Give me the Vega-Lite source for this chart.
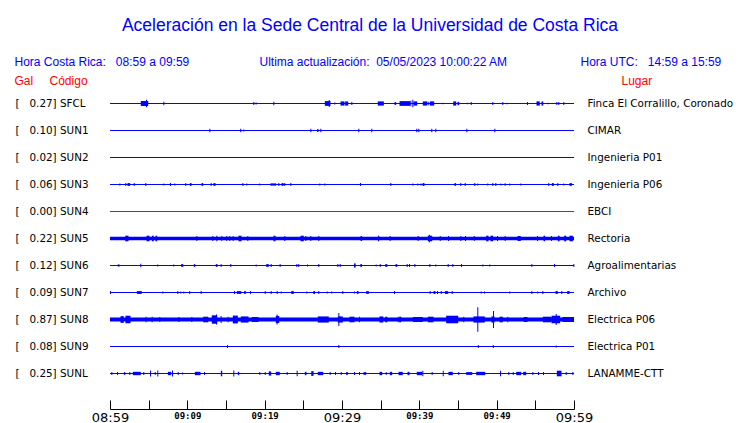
{
  "$schema": "https://vega.github.io/schema/vega-lite/v6.json",
  "autosize": {"type": "none"},
  "width": 464,
  "height": 333,
  "padding": {"left": 110, "top": 76, "right": 166, "bottom": 14},
  "background": "white",
  "config": {"view": {"stroke": null}},
  "title": {"text": "Aceleración en la Sede Central de la Universidad de Costa Rica", "font": "Liberation Sans", "fontSize": 17.5, "fontWeight": "normal", "color": "#0000ff", "anchor": "middle", "frame": "group", "dx": 28, "offset": 21},
  "datasets": {
    "stations": [
      {"n": 1, "code": "SFCL"}, {"n": 2, "code": "SUN1"}, {"n": 3, "code": "SUN2"}, {"n": 4, "code": "SUN3"},
      {"n": 5, "code": "SUN4"}, {"n": 6, "code": "SUN5"}, {"n": 7, "code": "SUN6"}, {"n": 8, "code": "SUN7"},
      {"n": 9, "code": "SUN8"}, {"n": 10, "code": "SUN9"}, {"n": 11, "code": "SUNL"}
    ],
    "header": [
      {"n": -0.39, "t": -12.35, "kind": "info", "text": "Hora Costa Rica:\u00a0\u00a0\u00a008:59 a 09:59"},
      {"n": -0.39, "t": 19.33, "kind": "info", "text": "Ultima actualización:\u00a0\u00a005/05/2023 10:00:22 AM"},
      {"n": -0.39, "t": 60.84, "kind": "info", "text": "Hora UTC:\u00a0\u00a0\u00a014:59 a 15:59"},
      {"n": 0.33, "t": -12.35, "kind": "col", "text": "Gal"},
      {"n": 0.33, "t": -7.82, "kind": "col", "text": "Código"},
      {"n": 0.33, "t": 66.14, "kind": "col", "text": "Lugar"}
    ],
    "bursts": [
      {"n":1,"t0":3.98,"t1":4.94,"a":0.18},{"n":1,"t0":27.78,"t1":28.51,"a":0.17},{"n":1,"t0":29.81,"t1":30.33,"a":0.15},{"n":1,"t0":30.41,"t1":30.8,"a":0.15},{"n":1,"t0":34.63,"t1":35.41,"a":0.15},{"n":1,"t0":36.79,"t1":37.01,"a":0.1},{"n":1,"t0":37.44,"t1":38.82,"a":0.17},{"n":1,"t0":39.25,"t1":39.72,"a":0.15},{"n":1,"t0":40.45,"t1":41.02,"a":0.15},{"n":1,"t0":41.35,"t1":41.92,"a":0.15},{"n":1,"t0":44.38,"t1":44.77,"a":0.15},{"n":1,"t0":44.94,"t1":45.16,"a":0.12},{"n":1,"t0":55.15,"t1":55.58,"a":0.15},{"n":1,"t0":55.8,"t1":56.02,"a":0.15},
      {"n":2,"t0":26.79,"t1":26.96,"a":0.1},
      {"n":4,"t0":2.26,"t1":2.61,"a":0.1},{"n":4,"t0":10.32,"t1":10.54,"a":0.1},{"n":4,"t0":11.83,"t1":12.05,"a":0.1},{"n":4,"t0":13.38,"t1":13.64,"a":0.1},{"n":4,"t0":20.75,"t1":21.49,"a":0.08},{"n":4,"t0":22.18,"t1":22.44,"a":0.1},{"n":4,"t0":40.41,"t1":40.67,"a":0.1},{"n":4,"t0":44.55,"t1":44.75,"a":0.1},{"n":4,"t0":51.0,"t1":51.2,"a":0.08},{"n":4,"t0":57.13,"t1":57.39,"a":0.1},{"n":4,"t0":59.42,"t1":59.72,"a":0.1},
      {"n":6,"t0":0,"t1":60,"a":0.12},{"n":6,"t0":1.97,"t1":2.39,"a":0.2},{"n":6,"t0":4.72,"t1":5.11,"a":0.2},{"n":6,"t0":5.41,"t1":5.66,"a":0.2},{"n":6,"t0":5.88,"t1":6.1,"a":0.2},{"n":6,"t0":16.62,"t1":17.0,"a":0.2},{"n":6,"t0":21.14,"t1":21.4,"a":0.2},{"n":6,"t0":24.63,"t1":25.06,"a":0.2},{"n":6,"t0":32.4,"t1":32.6,"a":0.18},{"n":6,"t0":34.65,"t1":34.8,"a":0.2},{"n":6,"t0":41.1,"t1":41.66,"a":0.2},{"n":6,"t0":48.65,"t1":48.94,"a":0.2},{"n":6,"t0":49.2,"t1":49.55,"a":0.2},{"n":6,"t0":52.7,"t1":53.12,"a":0.18},{"n":6,"t0":56.06,"t1":56.27,"a":0.2},{"n":6,"t0":57.91,"t1":58.13,"a":0.2},{"n":6,"t0":58.73,"t1":58.99,"a":0.2},{"n":6,"t0":59.42,"t1":59.85,"a":0.2},
      {"n":7,"t0":1.0,"t1":1.23,"a":0.08},{"n":7,"t0":9.2,"t1":9.47,"a":0.1},{"n":7,"t0":10.84,"t1":11.02,"a":0.1},{"n":7,"t0":13.68,"t1":13.9,"a":0.1},{"n":7,"t0":20.2,"t1":20.53,"a":0.1},{"n":7,"t0":31.55,"t1":31.75,"a":0.1},{"n":7,"t0":32.4,"t1":32.55,"a":0.1},{"n":7,"t0":35.59,"t1":35.85,"a":0.1},{"n":7,"t0":36.92,"t1":37.14,"a":0.1},
      {"n":8,"t0":3.47,"t1":4.11,"a":0.1},{"n":8,"t0":10.24,"t1":10.37,"a":0.1},{"n":8,"t0":16.4,"t1":16.97,"a":0.1},{"n":8,"t0":17.35,"t1":17.56,"a":0.1},{"n":8,"t0":23.43,"t1":23.77,"a":0.1},{"n":8,"t0":26.3,"t1":26.5,"a":0.1},{"n":8,"t0":31.92,"t1":32.14,"a":0.1},{"n":8,"t0":33.13,"t1":33.47,"a":0.1},{"n":8,"t0":41.83,"t1":42.09,"a":0.1},{"n":8,"t0":43.3,"t1":43.73,"a":0.1},{"n":8,"t0":57.61,"t1":57.91,"a":0.1},{"n":8,"t0":59.12,"t1":59.42,"a":0.1},
      {"n":9,"t0":0,"t1":60,"a":0.15},{"n":9,"t0":1.36,"t1":1.78,"a":0.24},{"n":9,"t0":2.0,"t1":2.65,"a":0.27},{"n":9,"t0":12.05,"t1":12.7,"a":0.2},{"n":9,"t0":13.16,"t1":13.86,"a":0.3},{"n":9,"t0":15.88,"t1":16.53,"a":0.28},{"n":9,"t0":16.91,"t1":17.91,"a":0.22},{"n":9,"t0":18.34,"t1":19.2,"a":0.18},{"n":9,"t0":21.44,"t1":21.88,"a":0.25},{"n":9,"t0":26.87,"t1":28.29,"a":0.22},{"n":9,"t0":29.46,"t1":30.1,"a":0.22},{"n":9,"t0":30.97,"t1":31.62,"a":0.2},{"n":9,"t0":34.85,"t1":35.33,"a":0.22},{"n":9,"t0":35.59,"t1":35.85,"a":0.2},{"n":9,"t0":37.4,"t1":37.65,"a":0.2},{"n":9,"t0":39.16,"t1":40.45,"a":0.18},{"n":9,"t0":41.1,"t1":41.83,"a":0.2},{"n":9,"t0":43.47,"t1":45.03,"a":0.27},{"n":9,"t0":47.0,"t1":48.47,"a":0.22},{"n":9,"t0":49.33,"t1":49.72,"a":0.22},{"n":9,"t0":50.37,"t1":50.8,"a":0.2},{"n":9,"t0":53.5,"t1":54.0,"a":0.18},{"n":9,"t0":55.97,"t1":57.05,"a":0.2},{"n":9,"t0":57.09,"t1":58.21,"a":0.27},{"n":9,"t0":58.5,"t1":60,"a":0.18},
      {"n":10,"t0":47.56,"t1":47.69,"a":0.1},{"n":10,"t0":49.5,"t1":49.63,"a":0.1},
      {"n":11,"t0":1.79,"t1":1.97,"a":0.1},{"n":11,"t0":2.95,"t1":3.98,"a":0.12},{"n":11,"t0":7.48,"t1":7.91,"a":0.12},{"n":11,"t0":10.97,"t1":11.7,"a":0.12},{"n":11,"t0":14.33,"t1":14.51,"a":0.2},{"n":11,"t0":16.53,"t1":16.71,"a":0.12},{"n":11,"t0":20.53,"t1":20.84,"a":0.15},{"n":11,"t0":21.44,"t1":21.96,"a":0.12},{"n":11,"t0":25.19,"t1":25.41,"a":0.12},{"n":11,"t0":26.02,"t1":26.32,"a":0.17},{"n":11,"t0":26.87,"t1":27.57,"a":0.12},{"n":11,"t0":30.54,"t1":30.75,"a":0.1},{"n":11,"t0":32.78,"t1":33.13,"a":0.1},{"n":11,"t0":34.85,"t1":35.2,"a":0.12},{"n":11,"t0":36.18,"t1":36.49,"a":0.12},{"n":11,"t0":37.31,"t1":37.86,"a":0.12},{"n":11,"t0":38.47,"t1":38.73,"a":0.12},{"n":11,"t0":39.67,"t1":40.37,"a":0.12},{"n":11,"t0":43.77,"t1":44.33,"a":0.12},{"n":11,"t0":46.06,"t1":46.84,"a":0.1},{"n":11,"t0":47.35,"t1":48.52,"a":0.12},{"n":11,"t0":52.53,"t1":53.17,"a":0.12},{"n":11,"t0":53.43,"t1":53.82,"a":0.12},{"n":11,"t0":57.78,"t1":58.39,"a":0.2}
    ],
    "spikes": [
      {"n":1,"t":4.72,"a":0.27},{"n":1,"t":6.96,"a":0.12},{"n":1,"t":18.6,"a":0.1},{"n":1,"t":18.9,"a":0.07},{"n":1,"t":21.18,"a":0.12},{"n":1,"t":28.35,"a":0.25},{"n":1,"t":29.07,"a":0.08},{"n":1,"t":31.27,"a":0.1},{"n":1,"t":38.9,"a":0.2},{"n":1,"t":39.16,"a":0.27},{"n":1,"t":41.15,"a":0.12},{"n":1,"t":43.04,"a":0.06},{"n":1,"t":46.19,"a":0.06},{"n":1,"t":46.71,"a":0.1},{"n":1,"t":49.5,"a":0.1},{"n":1,"t":50.79,"a":0.1},{"n":1,"t":51.31,"a":0.06},{"n":1,"t":53.99,"a":0.1},{"n":1,"t":56.61,"a":0.06},{"n":1,"t":57.78,"a":0.1},{"n":1,"t":58.04,"a":0.1},{"n":1,"t":58.68,"a":0.1},
      {"n":2,"t":12.91,"a":0.12},{"n":2,"t":16.91,"a":0.12},{"n":2,"t":17.3,"a":0.07},{"n":2,"t":25.97,"a":0.12},{"n":2,"t":27.26,"a":0.12},{"n":2,"t":32.17,"a":0.12},{"n":2,"t":33.85,"a":0.12},{"n":2,"t":39.67,"a":0.12},{"n":2,"t":39.93,"a":0.12},{"n":2,"t":41.61,"a":0.12},{"n":2,"t":42.13,"a":0.12},{"n":2,"t":46.14,"a":0.12},{"n":2,"t":49.76,"a":0.12},
      {"n":4,"t":1.27,"a":0.07},{"n":4,"t":2.04,"a":0.1},{"n":4,"t":3.13,"a":0.1},{"n":4,"t":4.63,"a":0.1},{"n":4,"t":6.96,"a":0.07},{"n":4,"t":7.82,"a":0.1},{"n":4,"t":8.38,"a":0.07},{"n":4,"t":9.8,"a":0.1},{"n":4,"t":13.08,"a":0.1},{"n":4,"t":17.18,"a":0.1},{"n":4,"t":17.69,"a":0.07},{"n":4,"t":19.37,"a":0.07},{"n":4,"t":21.83,"a":0.1},{"n":4,"t":22.6,"a":0.1},{"n":4,"t":23.38,"a":0.1},{"n":4,"t":27.13,"a":0.07},{"n":4,"t":27.78,"a":0.07},{"n":4,"t":32.39,"a":0.1},{"n":4,"t":36.31,"a":0.1},{"n":4,"t":39.16,"a":0.07},{"n":4,"t":39.8,"a":0.07},{"n":4,"t":40.19,"a":0.07},{"n":4,"t":45.36,"a":0.1},{"n":4,"t":45.93,"a":0.1},{"n":4,"t":47.17,"a":0.1},{"n":4,"t":47.56,"a":0.07},{"n":4,"t":48.85,"a":0.07},{"n":4,"t":49.5,"a":0.1},{"n":4,"t":49.89,"a":0.1},{"n":4,"t":50.54,"a":0.07},{"n":4,"t":51.7,"a":0.07},{"n":4,"t":53.12,"a":0.07},{"n":4,"t":56.74,"a":0.1},{"n":4,"t":57.91,"a":0.1},{"n":4,"t":58.68,"a":0.07},
      {"n":6,"t":11.23,"a":0.17},{"n":6,"t":13.29,"a":0.17},{"n":6,"t":13.81,"a":0.2},{"n":6,"t":14.46,"a":0.17},{"n":6,"t":15.1,"a":0.17},{"n":6,"t":15.49,"a":0.17},{"n":6,"t":15.93,"a":0.17},{"n":6,"t":17.82,"a":0.17},{"n":6,"t":22.6,"a":0.17},{"n":6,"t":25.32,"a":0.17},{"n":6,"t":25.97,"a":0.17},{"n":6,"t":27.0,"a":0.17},{"n":6,"t":36.23,"a":0.17},{"n":6,"t":39.85,"a":0.17},{"n":6,"t":41.3,"a":0.27},{"n":6,"t":42.7,"a":0.17},{"n":6,"t":43.77,"a":0.17},{"n":6,"t":45.36,"a":0.17},{"n":6,"t":45.97,"a":0.17},{"n":6,"t":47.1,"a":0.17},{"n":6,"t":50.11,"a":0.17},{"n":6,"t":51.1,"a":0.17},{"n":6,"t":55.28,"a":0.17},{"n":6,"t":57.09,"a":0.17},
      {"n":7,"t":3.98,"a":0.12},{"n":7,"t":6.18,"a":0.07},{"n":7,"t":8.25,"a":0.07},{"n":7,"t":14.37,"a":0.1},{"n":7,"t":15.62,"a":0.1},{"n":7,"t":18.9,"a":0.07},{"n":7,"t":20.84,"a":0.1},{"n":7,"t":22.0,"a":0.1},{"n":7,"t":24.16,"a":0.1},{"n":7,"t":24.41,"a":0.1},{"n":7,"t":25.54,"a":0.07},{"n":7,"t":27.0,"a":0.1},{"n":7,"t":29.46,"a":0.1},{"n":7,"t":29.77,"a":0.1},{"n":7,"t":31.66,"a":0.17},{"n":7,"t":32.48,"a":0.1},{"n":7,"t":34.42,"a":0.07},{"n":7,"t":34.94,"a":0.1},{"n":7,"t":38.43,"a":0.1},{"n":7,"t":38.73,"a":0.1},{"n":7,"t":39.42,"a":0.1},{"n":7,"t":41.36,"a":0.1},{"n":7,"t":42.13,"a":0.07},{"n":7,"t":43.73,"a":0.1},{"n":7,"t":44.33,"a":0.1},{"n":7,"t":45.45,"a":0.1},{"n":7,"t":48.21,"a":0.07},{"n":7,"t":49.11,"a":0.07},{"n":7,"t":54.55,"a":0.1},{"n":7,"t":57.48,"a":0.1},{"n":7,"t":59.98,"a":0.1},
      {"n":8,"t":0.06,"a":0.1},{"n":8,"t":6.83,"a":0.07},{"n":8,"t":8.77,"a":0.1},{"n":8,"t":9.16,"a":0.07},{"n":8,"t":9.54,"a":0.07},{"n":8,"t":11.79,"a":0.1},{"n":8,"t":16.1,"a":0.1},{"n":8,"t":18.17,"a":0.1},{"n":8,"t":20.07,"a":0.1},{"n":8,"t":20.84,"a":0.1},{"n":8,"t":21.62,"a":0.1},{"n":8,"t":22.14,"a":0.07},{"n":8,"t":25.45,"a":0.07},{"n":8,"t":26.44,"a":0.1},{"n":8,"t":27.0,"a":0.1},{"n":8,"t":28.09,"a":0.07},{"n":8,"t":28.68,"a":0.07},{"n":8,"t":30.1,"a":0.1},{"n":8,"t":31.62,"a":0.07},{"n":8,"t":36.79,"a":0.1},{"n":8,"t":41.4,"a":0.1},{"n":8,"t":42.35,"a":0.1},{"n":8,"t":42.83,"a":0.1},{"n":8,"t":44.25,"a":0.1},{"n":8,"t":48.0,"a":0.07},{"n":8,"t":48.43,"a":0.07},{"n":8,"t":51.7,"a":0.07},{"n":8,"t":54.55,"a":0.1},{"n":8,"t":55.32,"a":0.07},{"n":8,"t":55.97,"a":0.1},{"n":8,"t":58.42,"a":0.1},
      {"n":9,"t":4.66,"a":0.2},{"n":9,"t":5.45,"a":0.2},{"n":9,"t":6.44,"a":0.18},{"n":9,"t":8.9,"a":0.18},{"n":9,"t":10.58,"a":0.18},{"n":9,"t":13.77,"a":0.35},{"n":9,"t":14.37,"a":0.25},{"n":9,"t":15.28,"a":0.2},{"n":9,"t":21.6,"a":0.35},{"n":9,"t":29.59,"a":0.47},{"n":9,"t":32.26,"a":0.2},{"n":9,"t":37.27,"a":0.2},{"n":9,"t":45.75,"a":0.2},{"n":9,"t":47.56,"a":0.87},{"n":9,"t":49.59,"a":0.6},{"n":9,"t":51.44,"a":0.2},{"n":9,"t":57.7,"a":0.4},
      {"n":10,"t":15.19,"a":0.1},{"n":10,"t":29.59,"a":0.1},{"n":10,"t":57.7,"a":0.08},
      {"n":11,"t":0.24,"a":0.1},{"n":11,"t":0.97,"a":0.1},{"n":11,"t":2.56,"a":0.1},{"n":11,"t":4.37,"a":0.1},{"n":11,"t":5.24,"a":0.22},{"n":11,"t":5.84,"a":0.1},{"n":11,"t":6.18,"a":0.22},{"n":11,"t":8.08,"a":0.22},{"n":11,"t":8.82,"a":0.1},{"n":11,"t":9.38,"a":0.07},{"n":11,"t":12.22,"a":0.1},{"n":11,"t":16.01,"a":0.22},{"n":11,"t":19.37,"a":0.1},{"n":11,"t":20.07,"a":0.1},{"n":11,"t":22.91,"a":0.1},{"n":11,"t":24.2,"a":0.2},{"n":11,"t":28.47,"a":0.1},{"n":11,"t":29.16,"a":0.1},{"n":11,"t":29.9,"a":0.1},{"n":11,"t":31.62,"a":0.1},{"n":11,"t":32.26,"a":0.1},{"n":11,"t":35.72,"a":0.1},{"n":11,"t":40.45,"a":0.2},{"n":11,"t":41.66,"a":0.1},{"n":11,"t":43.09,"a":0.2},{"n":11,"t":45.1,"a":0.1},{"n":11,"t":50.5,"a":0.2},{"n":11,"t":51.57,"a":0.1},{"n":11,"t":52.14,"a":0.1},{"n":11,"t":54.68,"a":0.1},{"n":11,"t":55.41,"a":0.1},{"n":11,"t":56.06,"a":0.1},{"n":11,"t":58.99,"a":0.1},{"n":11,"t":59.85,"a":0.1}
    ]
  },
  "resolve": {"axis": {"y": "independent"}},
  "layer": [
    {
      "data": {"name": "stations"},
      "mark": {"type": "rule", "strokeWidth": 1},
      "encoding": {
        "y": {"field": "n", "type": "quantitative",
          "scale": {"domain": [-0.0185, 12.3148], "reverse": true, "nice": false, "zero": false},
          "axis": {"orient": "left", "values": [1,2,3,4,5,6,7,8,9,10,11], "title": null, "domain": false, "ticks": false, "tickSize": 0, "grid": false,
            "labelAlign": "left", "labelPadding": 95, "labelFont": "DejaVu Sans", "labelFontSize": 10.4, "labelColor": "black", "labelOverlap": false, "labelBound": false, "labelFlush": false,
            "labelExpr": "['', '[\u00a0\u00a0\u00a00.27] SFCL', '[\u00a0\u00a0\u00a00.10] SUN1', '[\u00a0\u00a0\u00a00.02] SUN2', '[\u00a0\u00a0\u00a00.06] SUN3', '[\u00a0\u00a0\u00a00.00] SUN4', '[\u00a0\u00a0\u00a00.22] SUN5', '[\u00a0\u00a0\u00a00.12] SUN6', '[\u00a0\u00a0\u00a00.09] SUN7', '[\u00a0\u00a0\u00a00.87] SUN8', '[\u00a0\u00a0\u00a00.08] SUN9', '[\u00a0\u00a0\u00a00.25] SUNL'][datum.value]"}},
        "color": {"condition": {"test": "datum.code === 'SUN4'", "value": "#ff0000"}, "value": "#0000ff"}
      }
    },
    {
      "data": {"name": "bursts"},
      "mark": {"type": "rule", "color": "#0000ff"},
      "encoding": {
        "x": {"field": "t0", "type": "quantitative", "title": null,
          "scale": {"domain": [0, 60], "nice": false, "zero": false},
          "axis": {"orient": "bottom", "values": [0,5,10,15,20,25,30,35,40,45,50,55,60], "title": null, "grid": false,
            "domainColor": "black", "domainWidth": 1, "tickColor": "black", "tickSize": -9, "tickWidth": 1, "labelPadding": 11, "labelBaseline": "top",
            "labelColor": "black", "labelOverlap": false, "labelFlush": false, "labelBound": false,
            "labelFont": {"condition": {"test": "datum.value % 30 == 0", "value": "DejaVu Sans"}, "value": "DejaVu Sans Mono"},
            "labelFontSize": {"condition": {"test": "datum.value % 30 == 0", "value": 13}, "value": 9},
            "labelFontWeight": {"condition": {"test": "datum.value % 30 == 0", "value": "normal"}, "value": "bold"},
            "labelExpr": "datum.value % 10 == 0 ? ['08:59','09:09','09:19','09:29','09:39','09:49','09:59'][datum.value / 10] : ''"}},
        "x2": {"field": "t1"},
        "y": {"field": "n", "type": "quantitative",
          "scale": {"domain": [-0.0185, 12.3148], "reverse": true, "nice": false, "zero": false},
          "axis": {"orient": "right", "values": [1,2,3,4,5,6,7,8,9,10,11], "title": null, "domain": false, "ticks": false, "tickSize": 0, "grid": false,
            "labelAlign": "left", "labelPadding": 13, "labelFont": "DejaVu Sans", "labelFontSize": 10.4, "labelColor": "black", "labelOverlap": false, "labelBound": false, "labelFlush": false,
            "labelExpr": "['', 'Finca El Corralillo, Coronado', 'CIMAR', 'Ingenieria P01', 'Ingenieria P06', 'EBCI', 'Rectoria', 'Agroalimentarias', 'Archivo', 'Electrica P06', 'Electrica P01', 'LANAMME-CTT'][datum.value]"}},
        "size": {"field": "a", "type": "quantitative", "scale": {"type": "linear", "domain": [0, 1], "range": [0, 28], "zero": true}, "legend": null}
      }
    },
    {
      "data": {"name": "spikes"},
      "mark": {"type": "tick", "orient": "vertical", "thickness": 1, "color": "#0000ff", "opacity": 1},
      "encoding": {
        "x": {"field": "t", "type": "quantitative", "title": null,
          "scale": {"domain": [0, 60], "nice": false, "zero": false},
          "axis": {"orient": "bottom", "values": [0,5,10,15,20,25,30,35,40,45,50,55,60], "title": null, "grid": false,
            "domainColor": "black", "domainWidth": 1, "tickColor": "black", "tickSize": -9, "tickWidth": 1, "labelPadding": 11, "labelBaseline": "top",
            "labelColor": "black", "labelOverlap": false, "labelFlush": false, "labelBound": false,
            "labelFont": {"condition": {"test": "datum.value % 30 == 0", "value": "DejaVu Sans"}, "value": "DejaVu Sans Mono"},
            "labelFontSize": {"condition": {"test": "datum.value % 30 == 0", "value": 13}, "value": 9},
            "labelFontWeight": {"condition": {"test": "datum.value % 30 == 0", "value": "normal"}, "value": "bold"},
            "labelExpr": "datum.value % 10 == 0 ? ['08:59','09:09','09:19','09:29','09:39','09:49','09:59'][datum.value / 10] : ''"}},
        "y": {"field": "n", "type": "quantitative", "scale": {"domain": [-0.0185, 12.3148], "reverse": true, "nice": false, "zero": false}, "axis": null},
        "size": {"field": "a", "type": "quantitative", "scale": {"type": "linear", "domain": [0, 1], "range": [0, 28], "zero": true}, "legend": null}
      }
    },
    {
      "data": {"name": "header"},
      "mark": {"type": "text", "align": "left", "baseline": "alphabetic", "font": "Liberation Sans", "fontSize": 12},
      "encoding": {
        "x": {"field": "t", "type": "quantitative", "title": null,
          "scale": {"domain": [0, 60], "nice": false, "zero": false},
          "axis": {"orient": "bottom", "values": [0,5,10,15,20,25,30,35,40,45,50,55,60], "title": null, "grid": false,
            "domainColor": "black", "domainWidth": 1, "tickColor": "black", "tickSize": -9, "tickWidth": 1, "labelPadding": 11, "labelBaseline": "top",
            "labelColor": "black", "labelOverlap": false, "labelFlush": false, "labelBound": false,
            "labelFont": {"condition": {"test": "datum.value % 30 == 0", "value": "DejaVu Sans"}, "value": "DejaVu Sans Mono"},
            "labelFontSize": {"condition": {"test": "datum.value % 30 == 0", "value": 13}, "value": 9},
            "labelFontWeight": {"condition": {"test": "datum.value % 30 == 0", "value": "normal"}, "value": "bold"},
            "labelExpr": "datum.value % 10 == 0 ? ['08:59','09:09','09:19','09:29','09:39','09:49','09:59'][datum.value / 10] : ''"}},
        "y": {"field": "n", "type": "quantitative", "scale": {"domain": [-0.0185, 12.3148], "reverse": true, "nice": false, "zero": false}, "axis": null},
        "text": {"field": "text"},
        "color": {"condition": {"test": "datum.kind === 'col'", "value": "#ff0000"}, "value": "#0000ff"}
      }
    }
  ]
}
